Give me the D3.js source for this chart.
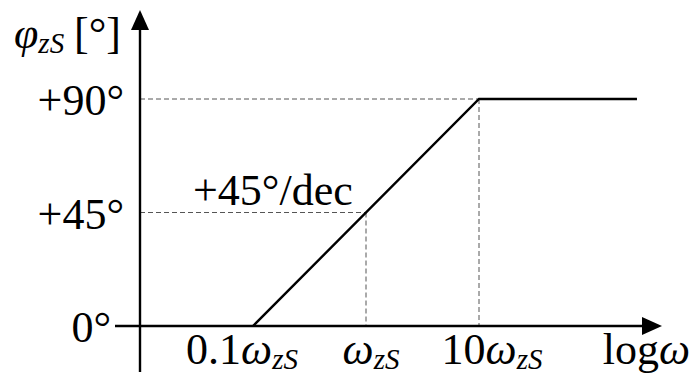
<!DOCTYPE html>
<html>
<head>
<meta charset="utf-8">
<script src="https://cdn.jsdelivr.net/npm/d3@7"></script>
<style>
  html, body { margin: 0; padding: 0; background: #fff; }
  svg text { font-family: "Liberation Serif", "DejaVu Serif", serif; fill: #000; }
</style>
</head>
<body>
<script>
// Asymptotic phase response of a zero: frequency in units of ωzS, phase in degrees
const freqs = [0.1, 10, 250];
const phases = [0, 90, 90];

// Reference levels marked on the phase axis
const phaseTicks = [0, 45, 90];
const phaseTickLabels = ["0°", "+45°", "+90°"];

// Marked frequencies on the log axis
const freqTicks = [0.1, 1, 10];
const freqTickPrefix = ["0.1", "", "10"];

const slopeLabel = "+45°/dec";

const W = 696, H = 376;
const svg = d3.select("body").append("svg")
  .attr("width", W).attr("height", H);

const x = d3.scaleLog().domain([0.1, 10]).range([253, 479]);
const y = d3.scaleLinear().domain([0, 90]).range([326, 99]);

const x0 = x(0.01);          // position of the phase axis
const yAxisTop = 10, yAxisBottom = 372;
const xAxisLeft = 115, xAxisRight = 662;

// Dashed guide lines
const guide = svg.append("g")
  .attr("stroke", "#555").attr("stroke-width", 1)
  .attr("stroke-dasharray", "5,3").attr("fill", "none");
guide.append("line")
  .attr("x1", x0).attr("x2", x(10)).attr("y1", y(90)).attr("y2", y(90));
guide.append("line")
  .attr("x1", x0).attr("x2", x(1)).attr("y1", y(45)).attr("y2", y(45));
guide.append("line")
  .attr("x1", x(1)).attr("x2", x(1)).attr("y1", y(45)).attr("y2", y(0));
guide.append("line")
  .attr("x1", x(10)).attr("x2", x(10)).attr("y1", y(90)).attr("y2", y(0));

// Axes with arrow heads
const axes = svg.append("g").attr("stroke", "#000").attr("stroke-width", 2.4);
axes.append("line")
  .attr("x1", x0).attr("x2", x0).attr("y1", yAxisBottom).attr("y2", yAxisTop + 14);
axes.append("line")
  .attr("x1", xAxisLeft).attr("x2", xAxisRight - 14).attr("y1", y(0)).attr("y2", y(0));
svg.append("path")
  .attr("d", `M${x0},${yAxisTop} L${x0 - 9},${yAxisTop + 20} L${x0 + 9},${yAxisTop + 20} Z`)
  .attr("fill", "#000");
svg.append("path")
  .attr("d", `M${xAxisRight},${y(0)} L${xAxisRight - 20},${y(0) - 9} L${xAxisRight - 20},${y(0) + 9} Z`)
  .attr("fill", "#000");

// Asymptote
const pts = freqs.map((f, i) => [f, phases[i]]);
svg.append("path")
  .datum(pts)
  .attr("d", d3.line().x(d => x(d[0])).y(d => y(d[1])))
  .attr("fill", "none").attr("stroke", "#000").attr("stroke-width", 2.4);

// Phase tick labels
const fs = 44;
svg.selectAll("text.ytick")
  .data(phaseTicks)
  .join("text")
  .attr("class", "ytick")
  .attr("x", d => d === 0 ? x0 - 29 : x0 - 16)
  .attr("y", d => y(d) + 16)
  .attr("text-anchor", "end")
  .attr("font-size", fs)
  .text((d, i) => phaseTickLabels[i]);

// Frequency tick labels: prefix + italic ω with subscript zS
const xlabDx = [-11, 5, 13];
const xl = svg.selectAll("text.xtick")
  .data(freqTicks)
  .join("text")
  .attr("class", "xtick")
  .attr("x", (d, i) => x(d) + xlabDx[i])
  .attr("y", 364)
  .attr("text-anchor", "middle")
  .attr("font-size", fs);
xl.append("tspan").text((d, i) => freqTickPrefix[i]);
xl.append("tspan").attr("font-style", "italic").text("ω");
xl.append("tspan").attr("font-style", "italic").attr("font-size", fs * 0.66)
  .attr("dy", 5).text("zS");

// Axis titles
const xt = svg.append("text")
  .attr("x", 690).attr("y", 364).attr("text-anchor", "end").attr("font-size", fs);
xt.append("tspan").text("log");
xt.append("tspan").attr("font-style", "italic").text("ω");

const yt = svg.append("text").attr("x", 14).attr("y", 48).attr("font-size", fs);
yt.append("tspan").attr("font-style", "italic").text("φ");
yt.append("tspan").attr("font-style", "italic").attr("font-size", fs * 0.66)
  .attr("dy", 5).text("zS");
svg.append("text").attr("x", 121).attr("y", 48).attr("text-anchor", "end")
  .attr("font-size", fs).text("[°]");

// Slope annotation
svg.append("text")
  .attr("x", 193).attr("y", 205).attr("font-size", fs)
  .text(slopeLabel);
</script>
</body>
</html>
